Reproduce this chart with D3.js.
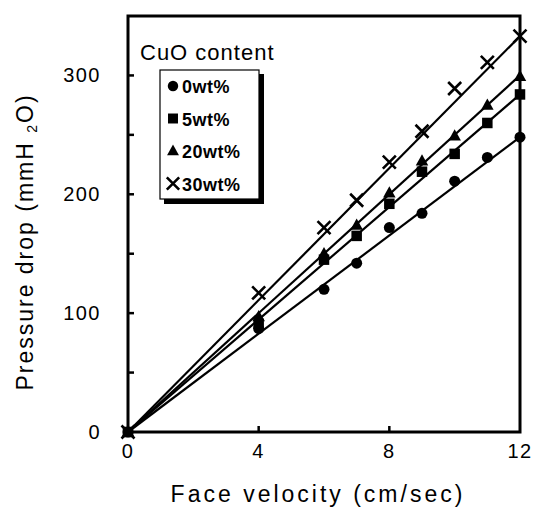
<!DOCTYPE html>
<html>
<head>
<meta charset="utf-8">
<script src="https://cdn.jsdelivr.net/npm/d3@7"></script>
<style>
  html, body { margin: 0; padding: 0; background: #fff; }
  svg { display: block; font-family: "Liberation Sans", Arial, sans-serif; }
</style>
</head>
<body>
<svg id="chart" width="535" height="507"></svg>
<script>
// Face velocity (cm/sec) at which pressure drop was measured
const velocity = [0, 4, 6, 7, 8, 9, 10, 11, 12];

// Pressure drop (mmH2O) for each CuO content
const cuo0  = [0, 87, 120, 142, 172, 184, 211, 231, 248];
const cuo5  = [0, 91, 145, 165, 192, 219, 234, 260, 284];
const cuo20 = [0, 97, 150, 174, 201, 228, 249, 275, 299];
const cuo30 = [0, 117, 172, 195, 227, 253, 289, 311, 333];

// Slope of the fitted line through the origin (mmH2O per cm/sec)
const fitSlope = [20.67, 23.67, 25.0, 27.75];

const seriesNames = ["0wt%", "5wt%", "20wt%", "30wt%"];
const seriesSymbols = ["circle", "square", "triangle", "cross"];

const xTicks = [0, 4, 8, 12];
const yTicks = [0, 100, 200, 300];
const yMinorTicks = [50, 100, 150, 200, 250, 300];

const series = [cuo0, cuo5, cuo20, cuo30].map((vals, i) => ({
  name: seriesNames[i],
  symbol: seriesSymbols[i],
  slope: fitSlope[i],
  points: vals.map((v, j) => ({ x: velocity[j], y: v }))
}));

const svg = d3.select("#chart");
const x = d3.scaleLinear().domain([0, 12]).range([128, 520]);
const y = d3.scaleLinear().domain([0, 350]).range([432, 16]);

// fitted lines
const line = d3.line().x(d => x(d[0])).y(d => y(d[1]));
svg.append("g").selectAll("path")
  .data(series)
  .join("path")
  .attr("d", s => line([[0, 0], [12, s.slope * 12]]))
  .attr("fill", "none")
  .attr("stroke", "#000")
  .attr("stroke-width", 2.2);

// markers
function drawSymbol(g, kind, cx, cy, scale) {
  const k = scale || 1;
  if (kind === "circle") {
    g.append("circle").attr("cx", cx).attr("cy", cy).attr("r", 5.5 * k).attr("fill", "#000");
  } else if (kind === "square") {
    const s = 10.5 * k;
    g.append("rect").attr("x", cx - s / 2).attr("y", cy - s / 2).attr("width", s).attr("height", s).attr("fill", "#000");
  } else if (kind === "triangle") {
    const s = 12.5 * k;
    const h = s * 0.9;
    g.append("path")
      .attr("d", `M${cx},${cy - h * 0.6}L${cx + s / 2},${cy + h * 0.4}L${cx - s / 2},${cy + h * 0.4}Z`)
      .attr("fill", "#000");
  } else {
    const s = 6.5 * k;
    g.append("path")
      .attr("d", `M${cx - s},${cy - s}L${cx + s},${cy + s}M${cx - s},${cy + s}L${cx + s},${cy - s}`)
      .attr("stroke", "#000").attr("stroke-width", 2.6).attr("fill", "none");
  }
}

// crosses underneath, solid symbols on top
const markers = svg.append("g");
[3, 0, 2, 1].forEach(i => {
  const s = series[i];
  s.points.forEach(p => drawSymbol(markers, s.symbol, x(p.x), y(p.y)));
});

// frame
svg.append("rect")
  .attr("x", x(0)).attr("y", y(350))
  .attr("width", x(12) - x(0)).attr("height", y(0) - y(350))
  .attr("fill", "none").attr("stroke", "#000").attr("stroke-width", 3);

// inward ticks
svg.append("g").selectAll("line")
  .data(yMinorTicks)
  .join("line")
  .attr("x1", x(0)).attr("x2", x(0) + 6)
  .attr("y1", d => y(d)).attr("y2", d => y(d))
  .attr("stroke", "#000").attr("stroke-width", 2.5);

svg.append("g").selectAll("line")
  .data([4, 8])
  .join("line")
  .attr("x1", d => x(d)).attr("x2", d => x(d))
  .attr("y1", y(0)).attr("y2", y(0) - 6)
  .attr("stroke", "#000").attr("stroke-width", 2.5);

// tick labels
svg.append("g").selectAll("text")
  .data(xTicks)
  .join("text")
  .attr("x", d => x(d)).attr("y", 458)
  .attr("text-anchor", "middle")
  .attr("font-size", 20).attr("letter-spacing", 1.5)
  .text(d => d);

svg.append("g").selectAll("text")
  .data(yTicks)
  .join("text")
  .attr("x", 101).attr("y", d => y(d) + 7)
  .attr("text-anchor", "end")
  .attr("font-size", 20).attr("letter-spacing", 1.5)
  .text(d => d);

// axis titles
svg.append("text")
  .attr("x", 318).attr("y", 502)
  .attr("text-anchor", "middle")
  .attr("font-size", 23).attr("letter-spacing", 3)
  .text("Face velocity (cm/sec)");

const yTitle = svg.append("text")
  .attr("transform", "translate(33,242) rotate(-90)")
  .attr("text-anchor", "middle")
  .attr("font-size", 23).attr("letter-spacing", 2);
yTitle.append("tspan").text("Pressure drop (mmH ");
yTitle.append("tspan").attr("font-size", 14).attr("dy", 4).text("2");
yTitle.append("tspan").attr("dy", -4).text("O)");

// legend
svg.append("text")
  .attr("x", 140).attr("y", 60)
  .attr("font-size", 22).attr("letter-spacing", 1)
  .text("CuO content");

const lg = svg.append("g");
lg.append("rect").attr("x", 164).attr("y", 74).attr("width", 100).attr("height", 130).attr("fill", "#000");
lg.append("rect").attr("x", 160).attr("y", 70).attr("width", 99).attr("height", 129)
  .attr("fill", "#fff").attr("stroke", "#000").attr("stroke-width", 1.2);

series.forEach((s, i) => {
  const cy = 86 + i * 32.5;
  drawSymbol(lg, s.symbol, 173, cy, 0.95);
  lg.append("text")
    .attr("x", 182).attr("y", cy + 7)
    .attr("font-size", 18).attr("font-weight", "bold").attr("letter-spacing", 0.5)
    .text(s.name);
});
</script>
</body>
</html>
